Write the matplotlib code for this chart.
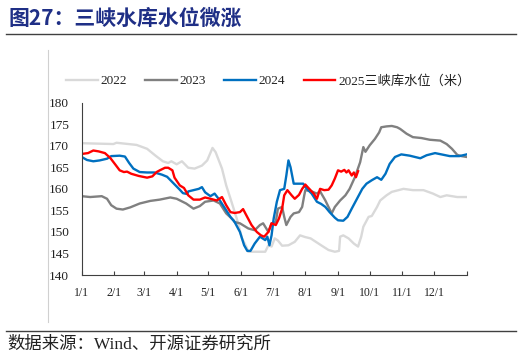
import matplotlib
matplotlib.use("Agg")
import matplotlib.pyplot as plt
from matplotlib.lines import Line2D

## data: day of year -> water level (m)
d22 = [0, 30, 33, 52, 62, 70, 77, 82, 85, 90, 95, 101, 107, 114, 119, 124, 127, 133, 137, 142,
       147, 150, 152, 156, 158, 166, 174, 177, 180, 183, 186, 190, 196, 202, 207, 212, 217, 222,
       227, 234, 240, 244, 245, 248, 253, 258, 262, 265, 267, 272, 275, 280, 283, 289, 294, 302,
       305, 314, 324, 333, 340, 346, 356, 365]
v22 = [170.6, 170.4, 170.7, 170.2, 169.3, 167.7, 166.4, 166.0, 166.4, 165.7, 166.4, 164.9, 164.7,
       165.4, 166.6, 169.5, 168.5, 164.7, 160.8, 157.0, 153.1, 150.4, 148.5, 146.6, 145.4, 145.4,
       145.4, 146.9, 146.6, 148.5, 148.0, 146.8, 146.9, 147.7, 149.2, 148.8, 148.5, 147.7, 146.9,
       145.8, 145.4, 145.6, 148.9, 149.2, 148.5, 147.3, 146.6, 148.9, 151.2, 153.5, 153.7, 155.8,
       157.3, 158.5, 159.3, 159.8, 160.0, 159.7, 159.7, 158.9, 158.1, 158.5, 158.1, 158.1]

d23 = [0, 8, 19, 24, 28, 33, 39, 46, 55, 65, 74, 84, 90, 99, 106, 112, 117, 125, 131, 137, 144,
       145, 150, 158, 164, 169, 172, 177, 180, 184, 186, 190, 192, 194, 198, 201, 206, 209, 211,
       212, 218, 223, 226, 227, 231, 234, 237, 240, 245, 250, 254, 259, 264, 267, 269, 273, 278,
       282, 284, 289, 294, 299, 302, 308, 314, 322, 330, 340, 346, 351, 356, 360, 365]
v23 = [158.3, 158.1, 158.3, 157.7, 156.2, 155.4, 155.2, 155.7, 156.6, 157.2, 157.5, 158.0, 157.7,
       156.6, 155.4, 156.0, 157.0, 157.3, 156.6, 154.3, 152.7, 152.3, 152.0, 150.8, 150.4, 151.6,
       152.0, 150.0, 152.0, 152.3, 155.4, 155.8, 153.5, 151.6, 153.5, 154.3, 154.6, 155.8, 158.5,
       159.7, 159.4, 158.9, 159.5, 159.0, 157.3, 155.8, 154.3, 155.8, 157.3, 158.5, 160.0, 162.7,
       166.2, 169.7, 168.6, 170.1, 171.6, 173.1, 174.3, 174.5, 174.6, 174.3, 173.9, 172.8, 172.0,
       171.8, 171.4, 171.2, 170.4, 169.3, 167.9, 167.6, 167.4]

d24 = [0, 5, 11, 17, 24, 28, 36, 41, 45, 49, 55, 62, 69, 76, 81, 87, 93, 96, 100, 101, 111, 114,
       117, 122, 126, 131, 136, 141, 145, 150, 154, 157, 160, 164, 169, 174, 176, 178, 180, 182,
       185, 188, 192, 194, 196, 198, 201, 204, 210, 212, 218, 223, 227, 231, 235, 240, 243, 248,
       252, 256, 261, 266, 270, 275, 280, 284, 288, 292, 297, 303, 311, 321, 327, 335, 343, 349,
       358, 365]
v24 = [167.4, 166.7, 166.4, 166.6, 167.0, 167.6, 167.7, 167.5, 166.0, 164.7, 163.9, 163.8, 163.8,
       163.3, 162.8, 161.3, 159.8, 159.0, 158.8, 159.4, 160.0, 160.4, 159.2, 158.3, 158.9, 157.3,
       155.4, 153.5, 152.3, 150.0, 146.9, 145.6, 145.6, 147.3, 148.9, 148.1, 148.9, 146.9, 149.2,
       153.1, 157.0, 159.7, 160.0, 163.1, 166.6, 165.0, 161.2, 161.2, 161.2, 160.4, 158.9, 157.0,
       156.5, 155.8, 154.6, 153.3, 152.7, 152.6, 153.5, 155.4, 157.7, 160.0, 161.2, 162.0, 162.7,
       162.1, 163.5, 165.8, 167.4, 168.0, 167.7, 167.1, 167.8, 168.3, 167.9, 167.6, 167.6, 168.0]

d25 = [0, 6, 11, 16, 22, 27, 32, 36, 40, 43, 47, 54, 62, 67, 71, 74, 79, 82, 86, 88, 93, 97, 101,
       106, 112, 117, 122, 128, 133, 137, 141, 145, 150, 153, 156, 161, 166, 170, 173, 177, 180,
       184, 187, 190, 192, 195, 199, 202, 206, 209, 212, 215, 220, 223, 226, 230, 234, 237, 240,
       243, 246, 249, 251, 253, 256, 258, 260, 262]
v25 = [168.1, 168.3, 168.9, 168.7, 168.3, 167.2, 165.6, 164.3, 163.9, 164.0, 163.5, 163.0, 162.6,
       162.9, 163.9, 164.3, 164.9, 164.9, 164.3, 162.6, 160.8, 160.2, 158.5, 157.5, 157.5, 158.0,
       157.7, 157.3, 158.1, 156.2, 154.6, 154.4, 154.6, 155.3, 153.9, 151.6, 150.0, 149.2, 148.9,
       150.0, 152.0, 151.6, 153.1, 155.4, 158.5, 159.7, 158.5, 157.7, 158.6, 160.0, 161.0, 160.2,
       158.9, 157.7, 160.0, 159.7, 159.8, 160.8, 162.4, 164.3, 164.0, 164.4, 163.8, 164.3, 163.1,
       163.8, 162.7, 164.1]

month_days = [0, 31, 59, 90, 120, 151, 181, 212, 243, 273, 304, 334, 365]
month_lbl = ['1/1', '2/1', '3/1', '4/1', '5/1', '6/1', '7/1', '8/1', '9/1', '10/1', '11/1', '12/1', '']

serif = ['Liberation Serif', 'Noto Sans CJK SC']
cjk = ['Noto Sans CJK SC', 'DejaVu Sans']

fig = plt.figure(figsize=(5.22, 3.56), dpi=100)
ax = fig.add_axes([81.7/522, 1-275/356, 385/522, 172.3/356])

ax.plot(d22, v22, color='#D9D9D9', lw=1.7, label='2022')
ax.plot(d23, v23, color='#808080', lw=1.7, label='2023')
ax.plot(d24, v24, color='#0070C0', lw=1.7, label='2024')
ax.plot(d25, v25, color='#FF0000', lw=1.7, label='2025三峡库水位（米）')

ax.set_xlim(0, 365)
ax.set_ylim(140, 180)
ax.set_yticks(range(140, 181, 5))
ax.set_xticks(month_days)
ax.set_xticklabels(month_lbl)
for s in ['top', 'right']:
    ax.spines[s].set_visible(False)
for s in ['left', 'bottom']:
    ax.spines[s].set_color('#404040')
    ax.spines[s].set_linewidth(0.8)
ax.tick_params(axis='y', length=0, pad=9, labelsize=9.5, colors='#222222')
ax.tick_params(axis='x', direction='in', length=3, width=0.8, color='#404040',
               pad=9, labelsize=8.5, labelcolor='#222222')
for t in ax.get_xticklabels() + ax.get_yticklabels():
    t.set_family(serif)

leg = fig.legend(loc='center left', bbox_to_anchor=(66/522, 1-81/356), ncol=4, frameon=False,
                 prop={'family': serif, 'size': 9.5}, handlelength=2.4, handletextpad=0.2,
                 columnspacing=1.4, borderpad=0, borderaxespad=0)
for t in leg.get_texts():
    t.set_color('#222222')

# title, rules and source
fig.text(8/522, 1-18/356, '图27：三峡水库水位微涨', family=cjk, fontsize=15, weight='bold',
         color='#1F2F86', va='center', ha='left')
fig.add_artist(Line2D([6/522, 516/522], [1-34/356, 1-34/356], color='#404040', lw=1.0))
fig.add_artist(Line2D([48/522, 48/522], [1-50/356, 1-322/356], color='#D0D0D0', lw=0.8))
fig.add_artist(Line2D([6/522, 516/522], [1-331/356, 1-331/356], color='#404040', lw=1.0))
fig.text(7/522, 1-345/356, '数据来源：Wind、开源证券研究所', family=['Liberation Serif', 'Noto Sans CJK SC'],
         fontsize=12.5, color='#222222', va='center', ha='left')

fig.savefig('out.png', dpi=100)
